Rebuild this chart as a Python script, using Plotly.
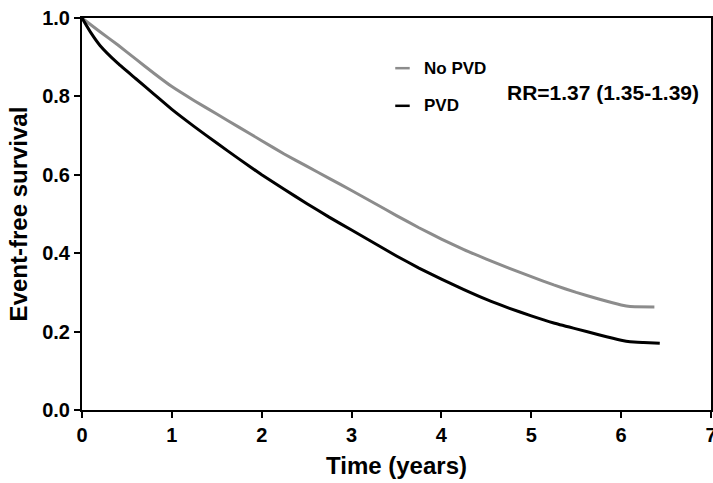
import plotly.graph_objects as go

# Data
t_nopvd = [0, 0.2, 0.4, 0.6, 0.8, 1.0, 1.25, 1.5, 1.75, 2.0, 2.25, 2.5, 2.75, 3.0,
           3.25, 3.5, 3.75, 4.0, 4.25, 4.5, 4.75, 5.0, 5.25, 5.5, 5.75, 6.0, 6.1, 6.37]
s_nopvd = [1.0, 0.965, 0.931, 0.895, 0.859, 0.825, 0.789, 0.755, 0.721, 0.687, 0.653,
           0.622, 0.591, 0.560, 0.528, 0.496, 0.465, 0.436, 0.409, 0.385, 0.362, 0.340,
           0.319, 0.300, 0.283, 0.268, 0.264, 0.263]

t_pvd = [0, 0.1, 0.2, 0.4, 0.6, 0.8, 1.0, 1.25, 1.5, 1.75, 2.0, 2.25, 2.5, 2.75, 3.0,
         3.25, 3.5, 3.75, 4.0, 4.25, 4.5, 4.75, 5.0, 5.25, 5.5, 5.75, 6.0, 6.1, 6.25, 6.43]
s_pvd = [1.0, 0.962, 0.930, 0.884, 0.845, 0.806, 0.767, 0.723, 0.681, 0.640, 0.600,
         0.563, 0.527, 0.492, 0.459, 0.426, 0.393, 0.362, 0.334, 0.307, 0.282, 0.260,
         0.240, 0.222, 0.207, 0.192, 0.178, 0.174, 0.172, 0.170]

x_ticks = [0, 1, 2, 3, 4, 5, 6, 7]
y_ticks = [0.0, 0.2, 0.4, 0.6, 0.8, 1.0]
y_ticklabels = ["0.0", "0.2", "0.4", "0.6", "0.8", "1.0"]

series_names = ["No PVD", "PVD"]
rr_text = "RR=1.37 (1.35-1.39)"

FONT = "Liberation Sans, Arial, sans-serif"
GRAY = "#8c8c8c"
BLACK = "#000000"

fig = go.Figure()
fig.add_trace(go.Scatter(x=t_nopvd, y=s_nopvd, mode="lines", name=series_names[0],
                         line=dict(color=GRAY, width=3, shape="spline", smoothing=0.4),
                         showlegend=False))
fig.add_trace(go.Scatter(x=t_pvd, y=s_pvd, mode="lines", name=series_names[1],
                         line=dict(color=BLACK, width=3, shape="spline", smoothing=0.4),
                         showlegend=False))

# manual legend
leg_y = [0.872, 0.776]
for yy, col, name in zip(leg_y, [GRAY, BLACK], series_names):
    fig.add_shape(type="line", xref="paper", yref="paper", x0=0.498, x1=0.521,
                  y0=yy, y1=yy, line=dict(color=col, width=2.5))
    fig.add_annotation(xref="paper", yref="paper", x=0.5405, y=yy, text="<b>%s</b>" % name,
                       showarrow=False, xanchor="left", yanchor="middle",
                       font=dict(family=FONT, size=17, color="black"))
fig.add_annotation(xref="paper", yref="paper", x=0.6725, y=0.809, text="<b>%s</b>" % rr_text,
                   showarrow=False, xanchor="left", yanchor="middle",
                   font=dict(family=FONT, size=21, color="black"))

fig.update_layout(
    width=713, height=483,
    margin=dict(l=82, r=2, t=18, b=73, autoexpand=False),
    paper_bgcolor="white", plot_bgcolor="white",
    font=dict(family=FONT, color="black"),
)
fig.update_xaxes(range=[0, 7], tickvals=x_ticks, ticktext=["<b>%d</b>" % v for v in x_ticks],
                 showline=True, linecolor="black", linewidth=2, mirror=True,
                 ticks="outside", ticklen=6, tickwidth=1.5, tickcolor="black",
                 showgrid=False, zeroline=False, ticklabeloverflow="allow", automargin=False,
                 tickfont=dict(family=FONT, size=20, color="black"),
                 title=dict(text="<b>Time (years)</b>", font=dict(family=FONT, size=24), standoff=12))
fig.update_yaxes(range=[0, 1], tickvals=y_ticks, ticktext=["<b>%s</b>" % v for v in y_ticklabels],
                 showline=True, linecolor="black", linewidth=2, mirror=True,
                 ticks="outside", ticklen=6, tickwidth=1.5, tickcolor="black",
                 showgrid=False, zeroline=False, automargin=False, ticklabeloverflow="allow",
                 tickfont=dict(family=FONT, size=20, color="black"),
                 title=dict(text="<b>Event-free survival</b>", font=dict(family=FONT, size=24), standoff=8))

# remove the default 8px page margin so the figure fills the window exactly
fig.write_html("out.html", config={"displayModeBar": False},
               post_script="document.body.style.margin='0';document.body.style.overflow='hidden';")
